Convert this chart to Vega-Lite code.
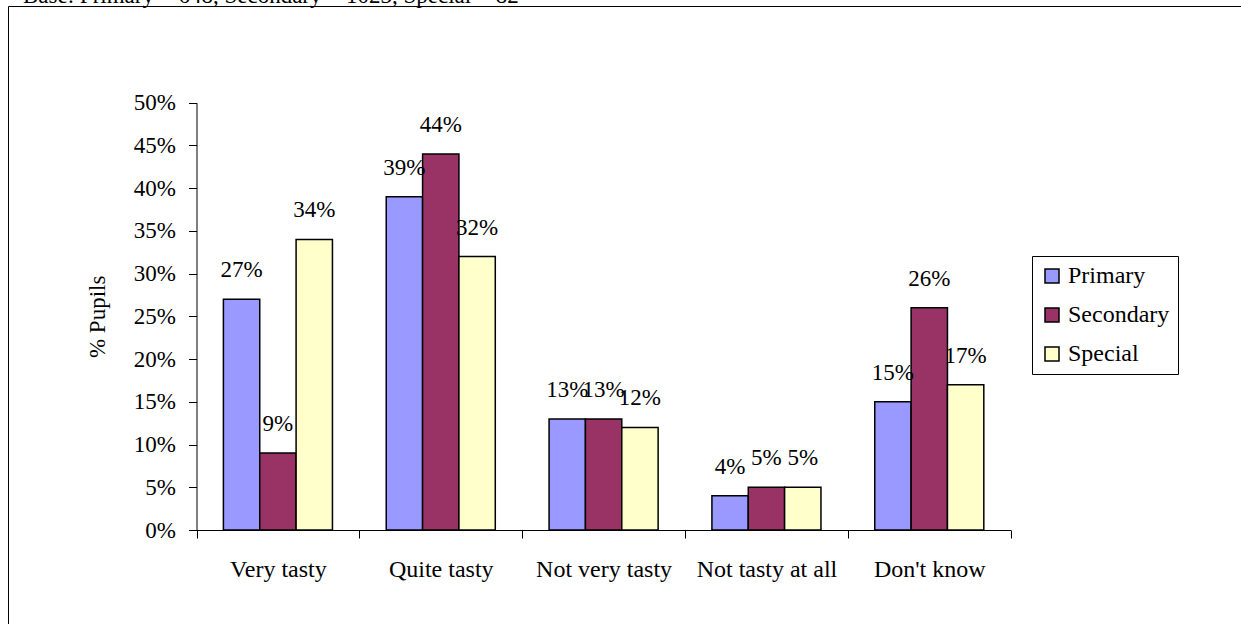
{
  "$schema": "https://vega.github.io/schema/vega-lite/v6.json",
  "autosize": "none",
  "width": 1300,
  "height": 640,
  "padding": {"left": 8, "top": 6, "right": 0, "bottom": 0},
  "background": "white",
  "title": {
    "text": "Base: Primary = 648, Secondary = 1023, Special = 82",
    "anchor": "start",
    "frame": "group",
    "baseline": "alphabetic",
    "offset": -20,
    "dx": 15,
    "font": "Liberation Serif",
    "fontSize": 23,
    "fontWeight": "normal",
    "color": "black"
  },
  "config": {
    "view": {"stroke": "black", "strokeWidth": 1},
    "font": "Liberation Serif",
    "axis": {
      "labelFont": "Liberation Serif",
      "titleFont": "Liberation Serif",
      "labelFontSize": 23,
      "titleFontSize": 23,
      "labelColor": "black",
      "titleColor": "black",
      "domainColor": "black",
      "tickColor": "black",
      "titleFontWeight": "normal",
      "grid": false
    }
  },
  "data": {
    "values": [
      {"category": "Very tasty", "school": "Primary", "value": 0.27},
      {"category": "Very tasty", "school": "Secondary", "value": 0.09},
      {"category": "Very tasty", "school": "Special", "value": 0.34},
      {"category": "Quite tasty", "school": "Primary", "value": 0.39},
      {"category": "Quite tasty", "school": "Secondary", "value": 0.44},
      {"category": "Quite tasty", "school": "Special", "value": 0.32},
      {"category": "Not very tasty", "school": "Primary", "value": 0.13},
      {"category": "Not very tasty", "school": "Secondary", "value": 0.13},
      {"category": "Not very tasty", "school": "Special", "value": 0.12},
      {"category": "Not tasty at all", "school": "Primary", "value": 0.04},
      {"category": "Not tasty at all", "school": "Secondary", "value": 0.05},
      {"category": "Not tasty at all", "school": "Special", "value": 0.05},
      {"category": "Don't know", "school": "Primary", "value": 0.15},
      {"category": "Don't know", "school": "Secondary", "value": 0.26},
      {"category": "Don't know", "school": "Special", "value": 0.17}
    ]
  },
  "encoding": {
    "x": {
      "field": "category",
      "type": "nominal",
      "sort": null,
      "scale": {"range": [188.5, 1002.7], "paddingInner": 0, "paddingOuter": 0},
      "axis": {
        "title": null,
        "labelAngle": 0,
        "offset": -116,
        "tickBand": "extent",
        "tickSize": 8,
        "labelPadding": 19,
        "domainWidth": 1,
        "labelLimit": 300,
        "labelFontSize": 24
      }
    },
    "xOffset": {
      "field": "school",
      "type": "nominal",
      "sort": ["Primary", "Secondary", "Special"],
      "scale": {"paddingInner": 0, "paddingOuter": 0.74}
    },
    "y": {
      "field": "value",
      "type": "quantitative",
      "scale": {"domain": [0, 0.5], "range": [524, 96.7], "nice": false, "zero": true},
      "axis": {
        "title": "% Pupils",
        "format": ".0%",
        "values": [0, 0.05, 0.1, 0.15, 0.2, 0.25, 0.3, 0.35, 0.4, 0.45, 0.5],
        "offset": -188.5,
        "tickSize": 8,
        "labelPadding": 13,
        "titlePadding": 24
      }
    }
  },
  "layer": [
    {
      "mark": {"type": "bar", "stroke": "black", "strokeWidth": 1.5},
      "encoding": {
        "color": {
          "field": "school",
          "type": "nominal",
          "sort": ["Primary", "Secondary", "Special"],
          "scale": {"domain": ["Primary", "Secondary", "Special"], "range": ["#9999FF", "#993366", "#FFFFCC"]},
          "legend": {
            "title": null,
            "orient": "none",
            "legendX": 1024,
            "legendY": 250,
            "strokeColor": "black",
            "fillColor": "white",
            "padding": 8,
            "symbolType": "square",
            "symbolSize": 196,
            "symbolStrokeColor": "black",
            "symbolStrokeWidth": 1.5,
            "symbolOpacity": 1,
            "labelFont": "Liberation Serif",
            "labelFontSize": 24,
            "labelColor": "black",
            "labelOffset": 4,
            "rowPadding": 15,
            "labelLimit": 300
          }
        }
      }
    },
    {
      "mark": {"type": "text", "dy": -29, "baseline": "middle", "align": "center", "font": "Liberation Serif", "fontSize": 23, "color": "black"},
      "encoding": {
        "text": {"field": "value", "type": "quantitative", "format": ".0%"}
      }
    }
  ]
}
